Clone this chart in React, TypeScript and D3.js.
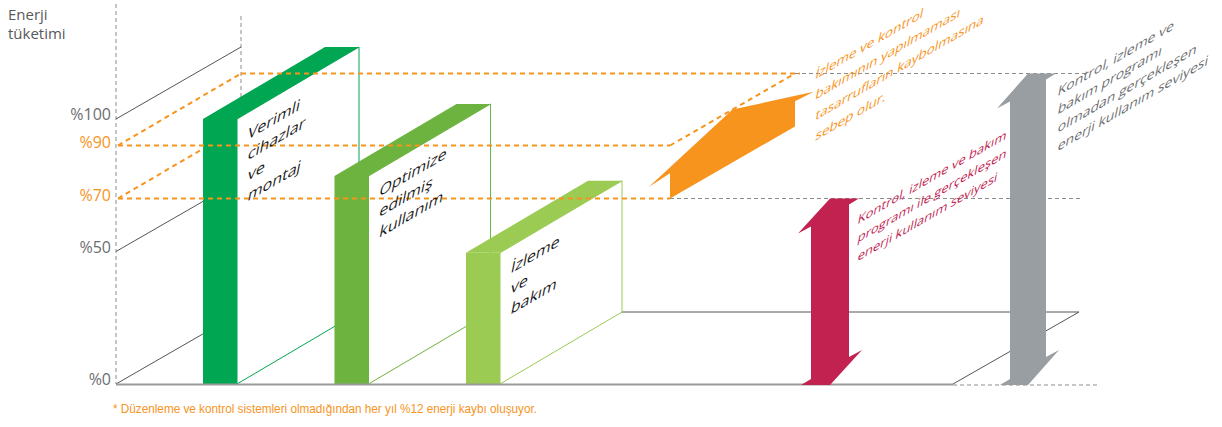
import React from "react";
import * as d3 from "d3";

// ---------- data ----------
const axisTitle = ["Enerji", "tüketimi"];
const yTickValues = [0, 50, 100];
const yTickLabels = ["%0", "%50", "%100"];
const refValues = [90, 70];
const refLabels = ["%90", "%70"];
const barNames = ["Verimli cihazlar ve montaj", "Optimize edilmiş kullanım", "İzleme ve bakım"];
const barLines = [
  ["Verimli", "cihazlar", "ve", "montaj"],
  ["Optimize", "edilmiş", "kullanım"],
  ["İzleme", "ve", "bakım"],
];
const barValues = [100, 78.5, 49.5];
const controlledLevel = 70; // pink arrow
const uncontrolledLevel = 90; // gray arrow (back plane) / orange arrow tip
const lossArrowBase = 79; // orange arrow head base
const orangeLines = ["İzleme ve kontrol", "bakımının yapılmaması", "tasarrufların kaybolmasına", "sebep olur."];
const pinkLines = ["Kontrol, izleme ve bakım", "programı ile gerçekleşen", "enerji kullanım seviyesi"];
const grayLines = ["Kontrol, izleme ve", "bakım programı", "olmadan gerçekleşen", "enerji kullanım seviyesi"];
const footnote = "* Düzenleme ve kontrol sistemleri olmadığından her yıl %12 enerji kaybı oluşuyor.";

// ---------- layout / style ----------
const W = 1222, H = 427;
const AX = 116; // front axis x
const GDX = 125, BDX = 122, DY = -72; // depth offsets
const FLOOR_END = 953;
const REF_END = 670;
const PINK_X = 830, GRAY_X = 1028;
const ORANGE = "#f7941d";
const PINK = "#c1224f";
const GREY_ARROW = "#999ea3";
const barColors = ["#00a651", "#6db33f", "#9bcb52"];
const FONT = "'Open Sans', 'Noto Sans', sans-serif";
const SHEAR = "matrix(1,-0.577,-0.2,1,0,0)";

const y = d3.scaleLinear().domain([0, 100]).range([384, 119]);
const xBar = d3.scaleBand<string>().domain(barNames).range([203, 500]).paddingInner(0.7414).paddingOuter(0);

const pts = (p: [number, number][]) => p.map((q) => q.join(",")).join(" ");

function doubleArrow(c: number, T: number, B: number, hw: number) {
  const flat = hw + 10, barb = hw + 13, drop = 35, inner = 28, notch = 6;
  return pts([
    [c, T], [c + flat, T], [c + hw, T + notch], [c + hw, B - inner], [c + barb, B - drop],
    [c, B], [c - flat, B], [c - hw, B - notch], [c - hw, T + inner], [c - barb, T + drop],
  ]);
}

function ShearText({ x, y0, lines, step, size, fill, weight = 400 }: any) {
  return (
    <g>
      {lines.map((t: string, i: number) => (
        <text
          key={i}
          transform={`translate(${x},${y0 + i * step}) ${SHEAR}`}
          fontFamily={FONT}
          fontSize={size}
          fontWeight={weight}
          fill={fill}
        >
          {t}
        </text>
      ))}
    </g>
  );
}

export default function App() {
  const base = y(0);
  const bw = xBar.bandwidth();
  const yBack = (v: number) => y(v) + DY;
  // orange arrow in (depth, value) plane at x = REF_END
  const proj = (d: number, v: number): [number, number] => [REF_END + d * GDX, y(v) + d * DY];
  const orangePoly = pts([
    proj(-0.17, lossArrowBase), proj(0.5, uncontrolledLevel), proj(1.15, lossArrowBase),
    proj(1, lossArrowBase + 0.5), proj(1, controlledLevel), proj(0, controlledLevel), proj(0, lossArrowBase + 0.5),
  ]);
  const dashO = { stroke: ORANGE, strokeWidth: 2, strokeDasharray: "5 4", fill: "none" };
  const dashG = { stroke: "#8c8c8c", strokeWidth: 1, strokeDasharray: "4 3", fill: "none" };
  const thin = { stroke: "#555", strokeWidth: 1, fill: "none" };

  return (
    <svg width={W} height={H} style={{ position: "fixed", left: 0, top: 0, background: "#fff" }}>
      {/* axis title */}
      {axisTitle.map((t, i) => (
        <text key={t} x={8} y={20 + i * 19} fontFamily={FONT} fontSize={15} fontWeight={500} fill="#58595b">{t}</text>
      ))}
      {/* axes */}
      <line x1={AX} x2={AX} y1={4} y2={base} {...dashG} />
      <line x1={AX + GDX} x2={AX + GDX} y1={16} y2={base + DY} {...dashG} />
      {yTickValues.map((v) => (
        <line key={v} x1={AX} y1={y(v)} x2={AX + GDX} y2={yBack(v)} {...thin} />
      ))}
      <line x1={AX + GDX} y1={base + DY} x2={FLOOR_END + GDX + 1} y2={base + DY} {...thin} />
      <line x1={FLOOR_END} y1={base} x2={FLOOR_END + GDX + 1} y2={base + DY} {...thin} />
      {yTickValues.map((v, i) => (
        <text key={v} x={111} y={y(v) + 1} textAnchor="end" fontFamily={FONT} fontSize={16} fill="#6d6e71">{yTickLabels[i]}</text>
      ))}
      {refValues.map((v, i) => (
        <text key={v} x={111} y={y(v) + 2} textAnchor="end" fontFamily={FONT} fontSize={16} fill={ORANGE}>{refLabels[i]}</text>
      ))}
      {/* orange diagonals (behind bars) */}
      {refValues.map((v) => (
        <line key={v} x1={AX + 2} y1={y(v)} x2={AX + GDX} y2={yBack(v)} {...dashO} />
      ))}
      {/* bars */}
      {barNames.map((n, i) => {
        const x = xBar(n)!;
        const top = y(barValues[i]);
        const col = barColors[i];
        return (
          <g key={n}>
            <polygon
              points={pts([[x + bw, top], [x + bw + BDX, top + DY], [x + bw + BDX, base + DY], [x + bw, base]])}
              fill="#fff" stroke={col} strokeWidth={1}
            />
            <polygon points={pts([[x, top], [x + BDX, top + DY], [x + bw + BDX, top + DY], [x + bw, top]])} fill={col} />
            <rect x={x} y={top} width={bw} height={base - top} fill={col} />
          </g>
        );
      })}
      {/* gray dashed guides */}
      <line x1={FLOOR_END} x2={1100} y1={base + 1} y2={base + 1} {...dashG} />
      <line x1={REF_END} x2={1080} y1={y(controlledLevel)} y2={y(controlledLevel)} {...dashG} />
      <line x1={REF_END + GDX} x2={1086} y1={yBack(uncontrolledLevel)} y2={yBack(uncontrolledLevel)} {...dashG} />
      {/* orange dashed guides */}
      <line x1={AX + 2} x2={REF_END} y1={y(90)} y2={y(90)} {...dashO} />
      <line x1={AX + 2} x2={REF_END} y1={y(70)} y2={y(70)} {...dashO} />
      <line x1={AX + GDX} x2={REF_END + GDX + 5} y1={yBack(90)} y2={yBack(90)} {...dashO} />
      <line x1={REF_END} y1={y(90)} x2={REF_END + GDX} y2={yBack(90)} {...dashO} />
      {/* baseline */}
      <line x1={AX} x2={FLOOR_END} y1={base + 0.5} y2={base + 0.5} stroke="#9a9a9a" strokeWidth={2} />
      {/* arrows */}
      <polygon points={orangePoly} fill={ORANGE} />
      <polygon points={doubleArrow(PINK_X, y(controlledLevel), base + 1, 19)} fill={PINK} />
      <polygon points={doubleArrow(GRAY_X, yBack(uncontrolledLevel), base + 1, 18)} fill={GREY_ARROW} />
      {/* bar labels */}
      {barNames.map((n, i) => (
        <ShearText key={n} x={xBar(n)! + bw + 10} y0={y(barValues[i]) + 21} lines={barLines[i]} step={20.5} size={16} fill="#1a1a1a" weight={500} />
      ))}
      <ShearText x={REF_END + 1.15 * GDX + 1} y0={yBack(uncontrolledLevel) + 6} lines={orangeLines} step={20.5} size={13.5} fill={ORANGE} />
      <ShearText x={PINK_X + 27} y0={y(controlledLevel) + 26} lines={pinkLines} step={18.5} size={13} fill={PINK} />
      <ShearText x={GRAY_X + 29} y0={yBack(uncontrolledLevel) + 23} lines={grayLines} step={18.3} size={14} fill="#6d6e71" />
      {/* footnote */}
      <text x={113} y={413} fontFamily="'Liberation Sans', Arial, sans-serif" fontSize={12} fill={ORANGE} textLength={424} lengthAdjust="spacingAndGlyphs">{footnote}</text>
    </svg>
  );
}
